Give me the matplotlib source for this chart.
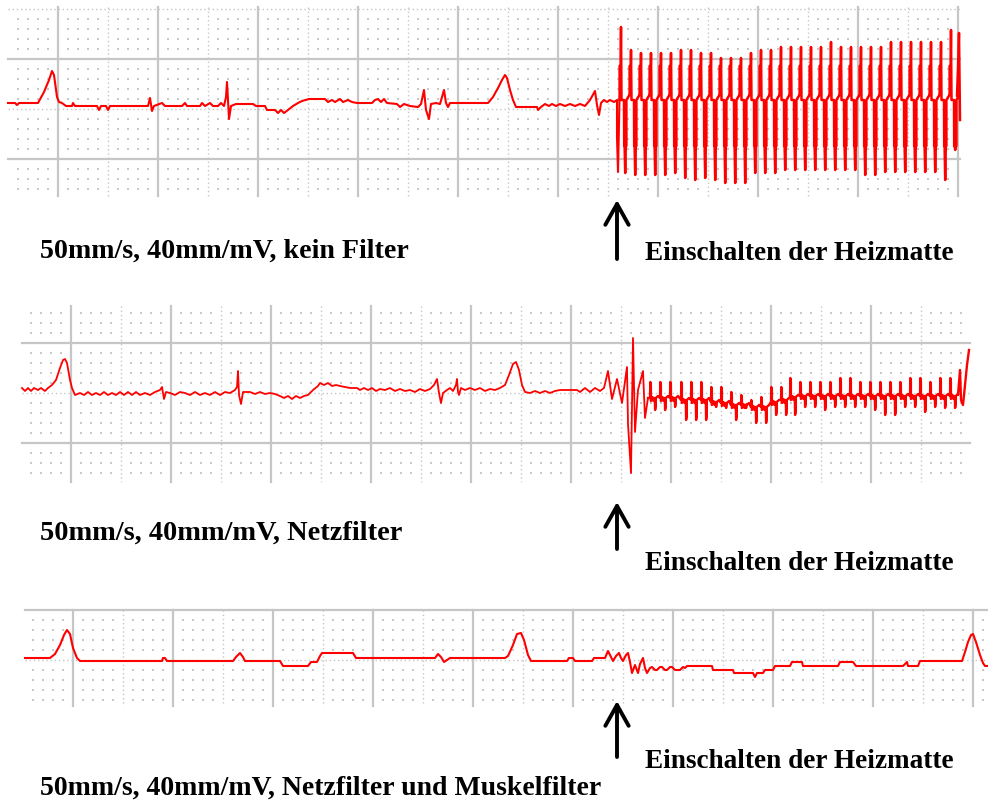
import numpy as np
import matplotlib.pyplot as plt

# ECG-Kurven in Bildpunkten (x, y) abgelesen, y nach unten
# Streifen 1: kein Filter, ruhiger Teil
ekg1_x = [8, 15, 17, 19, 38, 44, 49, 52, 54, 57, 59, 62, 66, 72, 73, 75, 97, 99, 101, 106, 108, 110,
          148, 150, 152, 154, 162, 165, 182, 185, 187, 200, 202, 205, 210, 213, 218, 221, 224, 226,
          227, 228, 229, 231, 236, 253, 256, 265, 267, 275, 278, 281, 284, 288, 293, 298, 302, 309,
          325, 328, 332, 335, 340, 343, 348, 352, 357, 372, 375, 378, 381, 384, 387, 397, 400, 404,
          410, 418, 421, 424, 426, 429, 431, 436, 440, 444, 446, 448, 450, 488, 493, 498, 502, 505,
          507, 510, 513, 516, 537, 538, 541, 545, 549, 552, 556, 560, 565, 570, 575, 580, 585, 590,
          595, 597, 599, 601, 604, 607, 610, 614, 617, 617, 618, 619.5]
ekg1_y = [103, 103, 105, 103, 103, 92, 80, 71, 75, 97, 102, 103, 106, 106, 103, 106, 106, 110, 106, 106,
          110, 106, 106, 98, 111, 106, 103, 106, 106, 103, 106, 106, 103, 106, 103, 106, 106, 103, 106,
          97, 82, 100, 119, 106, 104, 104, 106, 106, 110, 110, 113, 110, 113, 110, 106, 103, 101, 99,
          99, 102, 100, 102, 99, 102, 100, 102, 103, 103, 100, 99, 102, 99, 103, 104, 107, 104, 106,
          107, 104, 90, 110, 119, 104, 103, 104, 90, 103, 107, 103, 103, 97, 88, 80, 75, 78, 90, 100,
          107, 107, 110, 107, 104, 106, 104, 106, 104, 106, 104, 106, 104, 106, 100, 91, 105, 115,
          103, 100, 102, 100, 102, 100, 137, 172, 100]

# Streifen 1: Störung nach Einschalten der Heizmatte (Spitzen und Täler je Periode)
stoer1_x = [621, 631, 641, 651, 661, 671, 681, 691, 701, 711, 721, 731, 741, 751, 761, 771, 781,
            791, 801, 811, 821, 831, 841, 851, 861, 871, 881, 891, 901, 911, 921, 931, 941, 951]
stoer1_hoch = [27, 50, 53, 53, 53, 53, 50, 50, 53, 53, 58, 58, 58, 53, 50, 50, 47,
               47, 47, 47, 47, 42, 47, 47, 47, 47, 47, 42, 42, 42, 42, 42, 42, 30]
stoer1_tief = [173, 175, 175, 175, 175, 173, 178, 180, 178, 180, 183, 183, 183, 173, 173, 173, 170,
               170, 170, 170, 170, 170, 170, 170, 175, 175, 172, 172, 172, 172, 172, 172, 180, 150]
ende1_x = [957, 958, 959, 960]
ende1_y = [96, 68, 33, 120]

# Streifen 2: Netzfilter, ruhiger Teil
ekg2_x = [22, 25, 28, 31, 34, 38, 41, 45, 48, 52, 56, 60, 63, 65, 67, 70, 72, 75, 80, 84, 88, 92, 96,
          100, 104, 108, 112, 116, 120, 124, 128, 132, 136, 140, 145, 150, 155, 160, 162, 164, 166,
          170, 175, 180, 185, 190, 195, 200, 205, 210, 215, 220, 225, 230, 235, 237, 238, 239, 241,
          243, 250, 255, 260, 265, 270, 275, 280, 284, 288, 292, 296, 300, 304, 308, 313, 318, 320,
          324, 328, 332, 336, 340, 350, 357, 360, 364, 368, 372, 376, 380, 385, 390, 395, 400, 405,
          410, 415, 420, 425, 430, 434, 437, 439, 441, 443, 447, 450, 453, 456, 457, 458, 459, 461,
          465, 470, 475, 480, 485, 490, 495, 500, 505, 509, 513, 516, 519, 522, 525, 530, 535, 540,
          545, 550, 555, 560, 577, 580, 585, 590, 595, 600, 604, 608, 612, 617, 622, 627, 628, 631,
          633, 635, 638, 643, 645, 648]
ekg2_y = [388, 391, 388, 391, 388, 390, 388, 391, 388, 385, 380, 368, 360, 359, 363, 380, 388, 395,
          393, 395, 392, 395, 393, 395, 392, 395, 393, 395, 392, 395, 392, 395, 392, 395, 393, 395,
          392, 390, 387, 399, 392, 393, 395, 392, 393, 395, 392, 395, 393, 395, 392, 395, 392, 393,
          390, 387, 371, 395, 404, 392, 392, 394, 392, 394, 393, 394, 396, 398, 396, 399, 396, 398,
          396, 395, 390, 386, 383, 385, 383, 386, 385, 386, 388, 388, 390, 388, 390, 388, 391, 389,
          390, 388, 391, 389, 391, 390, 392, 389, 391, 389, 385, 379, 393, 403, 393, 390, 388, 391,
          385, 379, 392, 395, 388, 390, 388, 390, 388, 391, 389, 390, 388, 385, 375, 364, 362, 370,
          385, 392, 393, 391, 393, 391, 393, 391, 390, 390, 392, 388, 392, 388, 391, 388, 371, 399,
          379, 403, 367, 424, 473, 338, 432, 390, 371, 418, 398]

# Streifen 2: Störung
stoer2_x = [650, 660, 670, 681, 691, 701, 711, 721, 731, 741, 751, 761, 771, 781, 790, 800,
            810, 820, 830, 840, 850, 860, 870, 880, 890, 900, 910, 920, 930, 940, 950]
stoer2_hoch = [382, 382, 382, 382, 382, 382, 387, 387, 392, 395, 400, 397, 387, 387, 378, 382,
               382, 382, 382, 378, 378, 382, 382, 382, 382, 382, 378, 378, 382, 378, 378]
stoer2_tief = [410, 410, 407, 420, 420, 420, 407, 408, 420, 408, 423, 423, 415, 415, 415, 407,
               407, 410, 407, 407, 407, 407, 410, 415, 415, 407, 407, 412, 407, 408, 408]
stoer2_mitte = [398, 398, 398, 400, 400, 400, 402, 403, 405, 405, 407, 407, 402, 400, 397, 396,
                396, 396, 396, 396, 396, 396, 396, 396, 396, 396, 396, 396, 396, 396, 396]
ende2_x = [958, 960, 961, 963, 965, 967, 969]
ende2_y = [395, 370, 400, 405, 385, 365, 350]

# Streifen 3: Netzfilter und Muskelfilter
ekg3_x = [25, 50, 55, 60, 64, 67, 70, 73, 77, 80, 162, 163, 165, 167, 233, 236, 240, 243, 245, 280,
          283, 308, 311, 317, 320, 322, 353, 356, 435, 438, 441, 444, 447, 450, 505, 508, 513, 517,
          521, 524, 528, 531, 567, 569, 573, 575, 592, 594, 605, 608, 611, 613, 616, 619, 621, 623,
          626, 628, 630, 632, 635, 638, 640, 643, 645, 647, 650, 652, 655, 657, 660, 662, 665, 667,
          670, 672, 675, 680, 683, 685, 687, 712, 713, 733, 734, 753, 755, 757, 763, 765, 773, 775,
          790, 792, 802, 803, 838, 840, 853, 856, 903, 905, 907, 908, 918, 920, 962, 965, 968, 971,
          973, 976, 980, 983, 985, 988]
ekg3_y = [658, 658, 654, 645, 635, 630, 634, 648, 658, 661, 661, 658, 658, 661, 661, 657, 653, 657,
          661, 661, 666, 666, 662, 662, 656, 653, 653, 658, 658, 654, 657, 662, 660, 658, 658, 656,
          645, 634, 633, 640, 655, 661, 661, 658, 658, 661, 661, 658, 658, 651, 657, 661, 656, 653,
          658, 661, 655, 653, 662, 673, 665, 673, 664, 658, 668, 673, 668, 667, 670, 670, 667, 667,
          670, 670, 667, 667, 670, 670, 667, 668, 666, 666, 670, 670, 673, 673, 677, 673, 673, 670,
          670, 666, 666, 662, 662, 666, 666, 662, 662, 666, 666, 664, 662, 666, 666, 661, 661, 652,
          642, 635, 634, 642, 655, 663, 666, 666]

beschriftung = ['50mm/s, 40mm/mV, kein Filter',
                '50mm/s, 40mm/mV, Netzfilter',
                '50mm/s, 40mm/mV, Netzfilter und Muskelfilter']
hinweis = 'Einschalten der Heizmatte'

ROT = '#ff0000'
GRAU = '#c6c6c6'


def raster(ax, x0, x1, y0, y1, xref, yref):
    # EKG-Papier: volle Linien alle 100 px, gepunktete dazwischen, Punkte alle 10 px
    for x in np.arange(xref - 1000, x1 + 1, 50):
        if x <= x0 + 2 or x > x1:
            continue
        if (x - xref) % 100 == 0:
            ax.plot([x, x], [y0, y1], color=GRAU, lw=1.6, zorder=1)
        else:
            ax.plot([x, x], [y0, y1], color=GRAU, lw=1.0, ls=(0, (1, 2)), zorder=1)
    for y in np.arange(yref - 1000, y1 + 1, 50):
        if y < y0 or y > y1:
            continue
        if (y - yref) % 100 == 0:
            ax.plot([x0, x1], [y, y], color=GRAU, lw=1.6, zorder=1)
        else:
            ax.plot([x0, x1], [y, y], color=GRAU, lw=1.0, ls=(0, (1, 2)), zorder=1)
    px = [x for x in np.arange(xref - 1000, x1, 10) if x > x0 + 3 and (x - xref) % 50 != 0]
    py = [y for y in np.arange(yref - 1000, y1, 10) if y > y0 + 3 and (y - yref) % 50 != 0]
    gx, gy = np.meshgrid(px, py)
    ax.scatter(gx.ravel(), gy.ravel(), s=1.6, marker='s', color='#c8c8c8', lw=0, zorder=1)


fig = plt.figure(figsize=(9.88, 8.02), dpi=100)
ax = fig.add_axes([0, 0, 1, 1])
ax.set_xlim(0, 988)
ax.set_ylim(802, 0)
ax.axis('off')

raster(ax, 8, 960, 7, 196, 58, 59)
raster(ax, 22, 970, 306, 482, 71, 343)
raster(ax, 25, 988, 610, 706, 73, 610)

# Streifen 1
ax.plot(ekg1_x, ekg1_y, color=ROT, lw=1.5, zorder=3)
sx, sy = [619.5], [100]
for p, h, t in zip(stoer1_x, stoer1_hoch, stoer1_tief):
    sx += [p - 1.4, p - 1.4, p - 0.7, p - 0.7, p, p + 0.5, p + 0.5, p + 3, p + 3.2, p + 3.6,
           p + 4.2, p + 4.8, p + 5.4, p + 5.4, p + 8.4]
    sy += [95, 66, 66, 93, h, 93, 100, 100, 146, 146, t, 146, 146, 100, 95]
sx += ende1_x
sy += ende1_y
ax.plot(sx, sy, color=ROT, lw=1.8, zorder=3)

# Streifen 2
ax.plot(ekg2_x, ekg2_y, color=ROT, lw=1.3, zorder=3)
sx, sy = [648], [398]
for p, h, t, m in zip(stoer2_x, stoer2_hoch, stoer2_tief, stoer2_mitte):
    sx += [p, p + 0.3, p + 0.9, p + 0.9, p + 2.5, p + 3.5, p + 4.8, p + 5.1, p + 5.8, p + 5.8, p + 8]
    sy += [m, h, h + 4, m + 3, m - 1, m + 3, m, t, t - 4, m, m - 2]
sx += ende2_x
sy += ende2_y
ax.plot(sx, sy, color=ROT, lw=1.7, zorder=3)

# Streifen 3
ax.plot(ekg3_x, ekg3_y, color=ROT, lw=1.5, zorder=3)

schrift = dict(family='Liberation Serif', weight='bold', color='black', ha='left', va='center')
ax.text(40, 251, beschriftung[0], size=20.2, **schrift)
ax.text(40, 533, beschriftung[1], size=20.4, **schrift)
ax.text(40, 788, beschriftung[2], size=20.0, **schrift)
for y in [253, 563, 761]:
    ax.text(645, y, hinweis, size=19.6, **schrift)

pfeil = dict(arrowstyle='->,head_length=0.75,head_width=0.42', lw=2.8, color='black',
             mutation_scale=20, shrinkA=0, shrinkB=0)
for y_spitze, y_fuss in [(200, 259), (502, 549), (701, 757)]:
    ax.annotate('', xy=(617, y_spitze), xytext=(617, y_fuss), arrowprops=pfeil)

fig.savefig('out.png', dpi=100)
